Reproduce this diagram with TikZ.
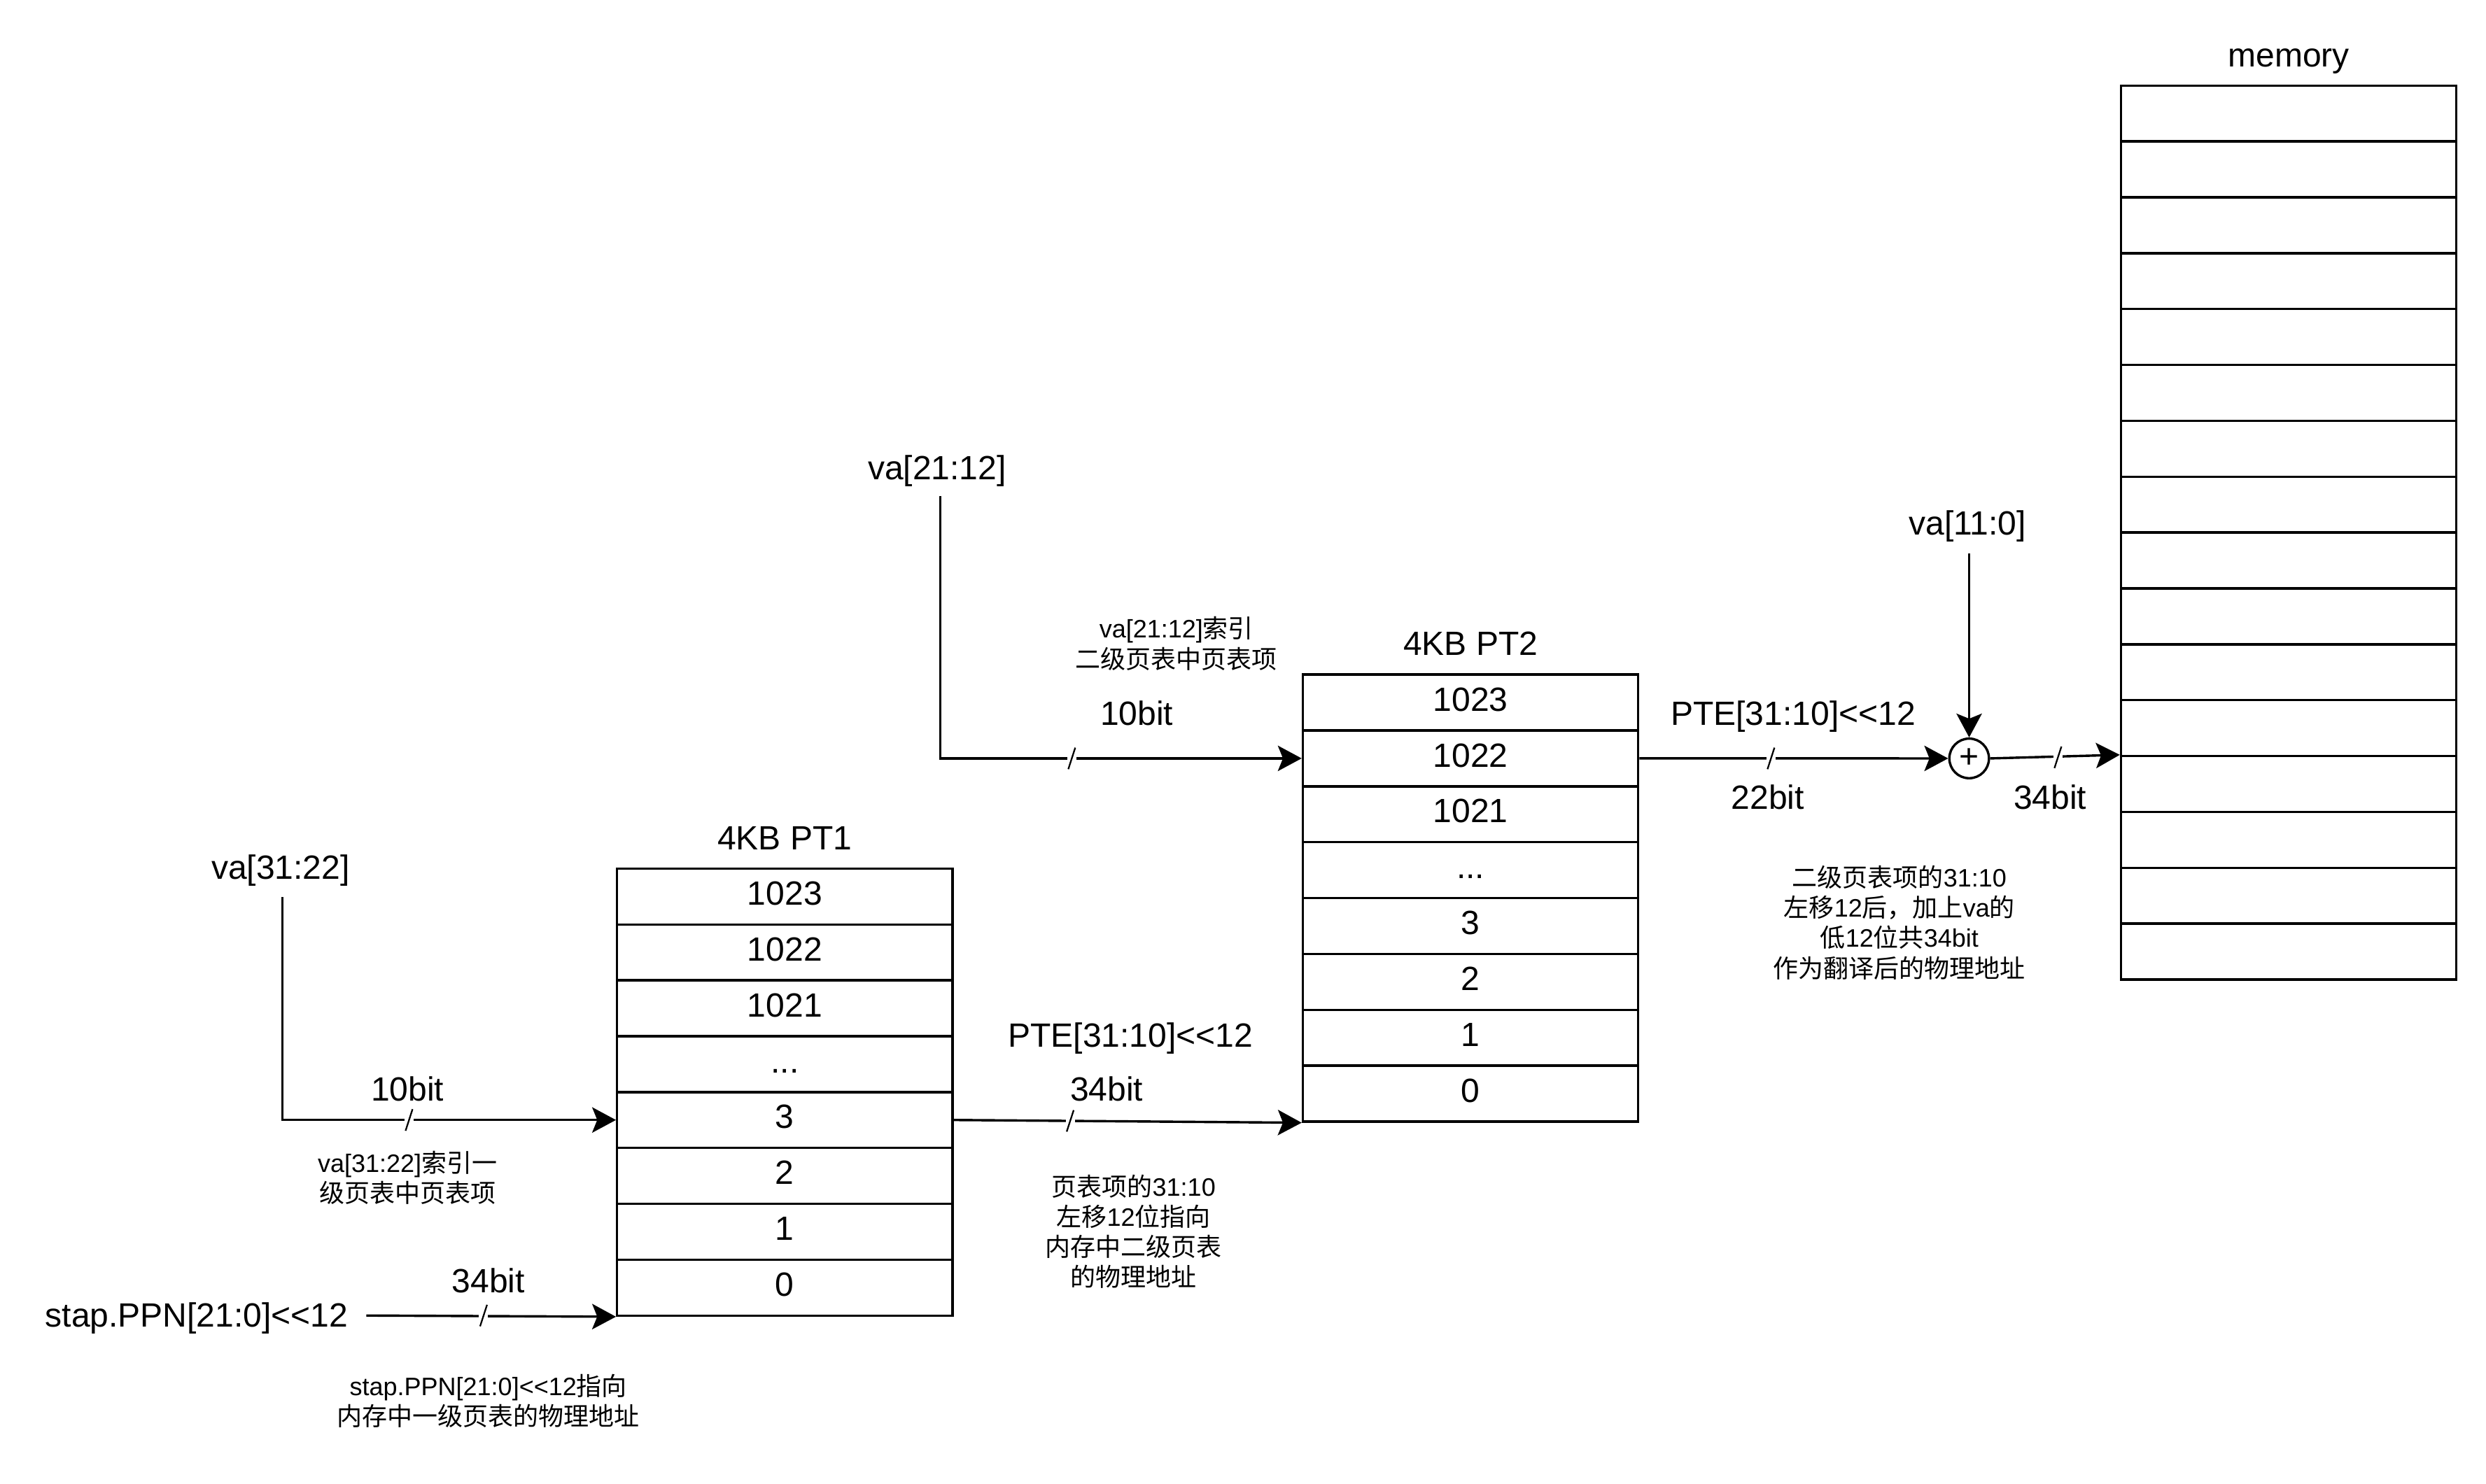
\documentclass[tikz,border=0pt]{standalone}
\usepackage{fontspec}
\setmainfont{Liberation Sans}
\newfontfamily\cjk{Noto Sans CJK SC}
\usetikzlibrary{arrows.meta}
\newcommand\myBig{\fontsize{21.2}{25.4}\selectfont}
\newcommand\mySmall{\fontsize{15.9}{19.1}\selectfont}
\newcommand\eldots{...}
\newcommand\shl{<\kern0pt<}
\tikzset{
  lbl/.style={inner sep=0pt, font=\myBig},
  note/.style={inner sep=0pt, font=\mySmall, align=center},
  cell/.style={draw, line width=1.5pt, rectangle, minimum width=211.5pt, minimum height=35.25pt, inner sep=0pt, font=\myBig, text height=15.2pt, text depth=4.5pt},
  wire/.style={line width=1.5pt},
  conn/.style={line width=1.5pt, -{Stealth[length=15pt,width=16pt,inset=3.2pt]}},
  adder/.style={circle, draw, line width=1.5pt, minimum size=25pt, inner sep=0pt, font=\myBig, fill=white},
  bus/.pic={\fill[white] (-2.9,-1.9) rectangle (2.9,1.9); \draw[line width=1pt] (-2.2,6.8)--(2.2,-6.8);}
}
\begin{document}
\begin{tikzpicture}[x=1pt,y=-1pt]
\fill[white] (0,0) rectangle (1568,936);
\useasboundingbox (0,0) rectangle (1568,936);

% memory
\node[lbl] (memt) at (1443.5,38.5) {memory};
\foreach \i in {0,...,15}{
  \node[cell] (m\i) at (1443.5,{54+35.25*(\i+0.5)}) {};
}

% PT1
\node[lbl] (pt1t) at (495,529) {4KB PT1};
\foreach \t [count=\i from 0] in {1023,1022,1021,\eldots,3,2,1,0}{
  \node[cell] (p1r\i) at (495,{548+35.25*(\i+0.5)}) {\t};
}

% PT2
\node[lbl] (pt2t) at (927.5,406) {4KB PT2};
\foreach \t [count=\i from 0] in {1023,1022,1021,\eldots,3,2,1,0}{
  \node[cell] (p2r\i) at (927.5,{425.6+35.25*(\i+0.5)}) {\t};
}

% adder
\node[adder] (plus) at (1242,478.5) {+};

% input labels
\node[lbl] (va1) at (177,549) {va[31:22]};
\node[lbl] (va2) at (591,297) {va[21:12]};
\node[lbl] (va3) at (1241,332) {va[11:0]};
\node[lbl] (stap) at (124,831.5) {stap.PPN[21:0]\shl12};
\coordinate (c1) at (178,566);
\coordinate (c2) at (593,313);
\coordinate (c3) at (1242,349);
\coordinate (c0) at (231,830);

% connectors
\draw[conn] (c1) |- (p1r4.west);
\draw[conn] (c0) -- (p1r7.south west);
\draw[conn] (p1r4.east) -- (p2r7.south west);
\draw[conn] (c2) |- (p2r1.west);
\draw[conn] (p2r1.east) -- (plus.west);
\draw[conn] (c3) -- (plus.north);
\draw[conn] (plus.east) -- (m12.north west);

% bus width marks
\pic at (258,706.6) {bus};
\pic at (305,830) {bus};
\pic at (675,707.2) {bus};
\pic at (676,478.5) {bus};
\pic at (1117,478.5) {bus};
\pic at (1298,477.8) {bus};

% edge labels
\node[lbl] (b1) at (257,687) {10bit};
\node[lbl] (b2) at (308,808) {34bit};
\node[lbl] (pte1) at (713,655) {PTE[31:10]\shl12};
\node[lbl] (b3) at (698,687) {34bit};
\node[lbl] (b4) at (717,450) {10bit};
\node[lbl] (pte2) at (1131,452) {PTE[31:10]\shl12};
\node[lbl] (b5) at (1115,503) {22bit};
\node[lbl] (b6) at (1293,503) {34bit};

% notes
\node[note] (n1) at (257,743) {va[31:22]{\cjk 索引一}\\{\cjk 级页表中页表项}};
\node[note] (n2) at (308,884) {stap.PPN[21:0]\shl12{\cjk 指向}\\{\cjk 内存中一级页表的物理地址}};
\node[note] (n3) at (715,777) {{\cjk 页表项的}31:10\\{\cjk 左移}12{\cjk 位指向}\\{\cjk 内存中二级页表}\\{\cjk 的物理地址}};
\node[note] (n4) at (742,406) {va[21:12]{\cjk 索引}\\{\cjk 二级页表中页表项}};
\node[note] (n5) at (1198,582) {{\cjk 二级页表项的}31:10\\{\cjk 左移}12{\cjk 后，加上}va{\cjk 的}\\{\cjk 低}12{\cjk 位共}34bit\\{\cjk 作为翻译后的物理地址}};
\end{tikzpicture}
\end{document}
